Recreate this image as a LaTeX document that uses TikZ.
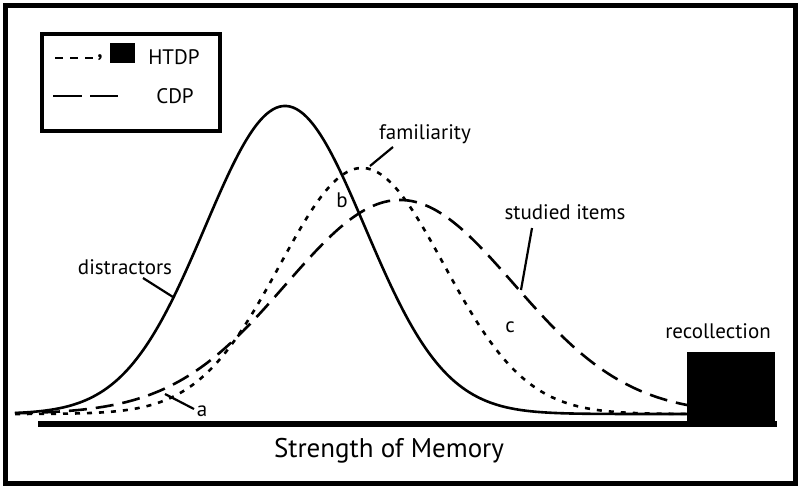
\documentclass[tikz,border=0pt]{standalone}
\usepackage{fontspec}
\setmainfont{PT Sans}
\begin{document}
\begin{tikzpicture}[x=1pt,y=-1pt,
  curve/.style={line width=2.6pt},
  dotcurve/.style={line width=2.6pt, dash pattern=on 5pt off 7pt},
  dashcurve/.style={line width=2.6pt, dash pattern=on 18pt off 9pt},
  leader/.style={line width=2.2pt},
  lbl/.style={font=\fontsize{21}{24}\selectfont, inner sep=0pt},
  bigl/.style={font=\fontsize{27}{30}\selectfont, inner sep=0pt}]
\useasboundingbox (0,0) rectangle (800,488);
\fill[white] (0,0) rectangle (800,488);
% outer frame
\draw[line width=5pt] (5,5) rectangle (795,483);
% legend
\draw[line width=4pt] (42,34) rectangle (220,131);
\coordinate (l1a) at (55,58); \coordinate (l1b) at (93,58);
\draw[line width=2.6pt, dash pattern=on 8pt off 7pt] (l1a) -- (l1b);
\node[lbl, font=\bfseries\fontsize{21}{24}\selectfont] (comma) at (100,58) {,};
\fill (110,43) rectangle (135,63);
\node[lbl] (htdp) at (174,57) {HTDP};
\coordinate (l2a) at (53,96); \coordinate (l2b) at (118,96);
\draw[line width=2.6pt, dash pattern=on 29pt off 8pt] (l2a) -- (l2b);
\node[lbl] (cdp) at (175,96) {CDP};
% axis
\draw[line width=6pt] (38,424) -- (777,424);
% curves
\draw[curve] plot[domain=15:690, samples=200, smooth] (\x, {414 - 308*exp(-0.5*((\x-285)/80)^2)});
\draw[dotcurve] plot[domain=15:690, samples=200, smooth] (\x, {414 - 246*exp(-0.5*((\x-362)/82)^2)});
\draw[dashcurve] plot[domain=15:690, samples=200, smooth] (\x, {414 - 214*exp(-0.5*((\x-400)/114)^2)});
% recollection box
\fill (687,352) rectangle (775,425);
\node[lbl] (rec) at (718,331) {recollection};
% labels
\node[bigl] (som) at (389,451) {Strength of Memory};
\node[lbl] (dis) at (125,267) {distractors};
\node[lbl] (fam) at (425,134) {familiarity};
\node[lbl] (stu) at (565,212) {studied items};
\node[lbl] (b) at (342,200) {b};
\node[lbl] (c) at (510,327) {c};
\node[lbl] (a) at (202,411) {a};
% leaders
\coordinate (disA) at (143,278); \coordinate (disB) at (173,297);
\draw[leader] (disA) -- (disB);
\coordinate (famA) at (393,147); \coordinate (famB) at (370,166);
\draw[leader] (famA) -- (famB);
\coordinate (stuA) at (532,228); \coordinate (stuB) at (521,290);
\draw[leader] (stuA) -- (stuB);
\coordinate (aA) at (165,394); \coordinate (aB) at (194,409);
\draw[leader] (aA) -- (aB);
\end{tikzpicture}
\end{document}
